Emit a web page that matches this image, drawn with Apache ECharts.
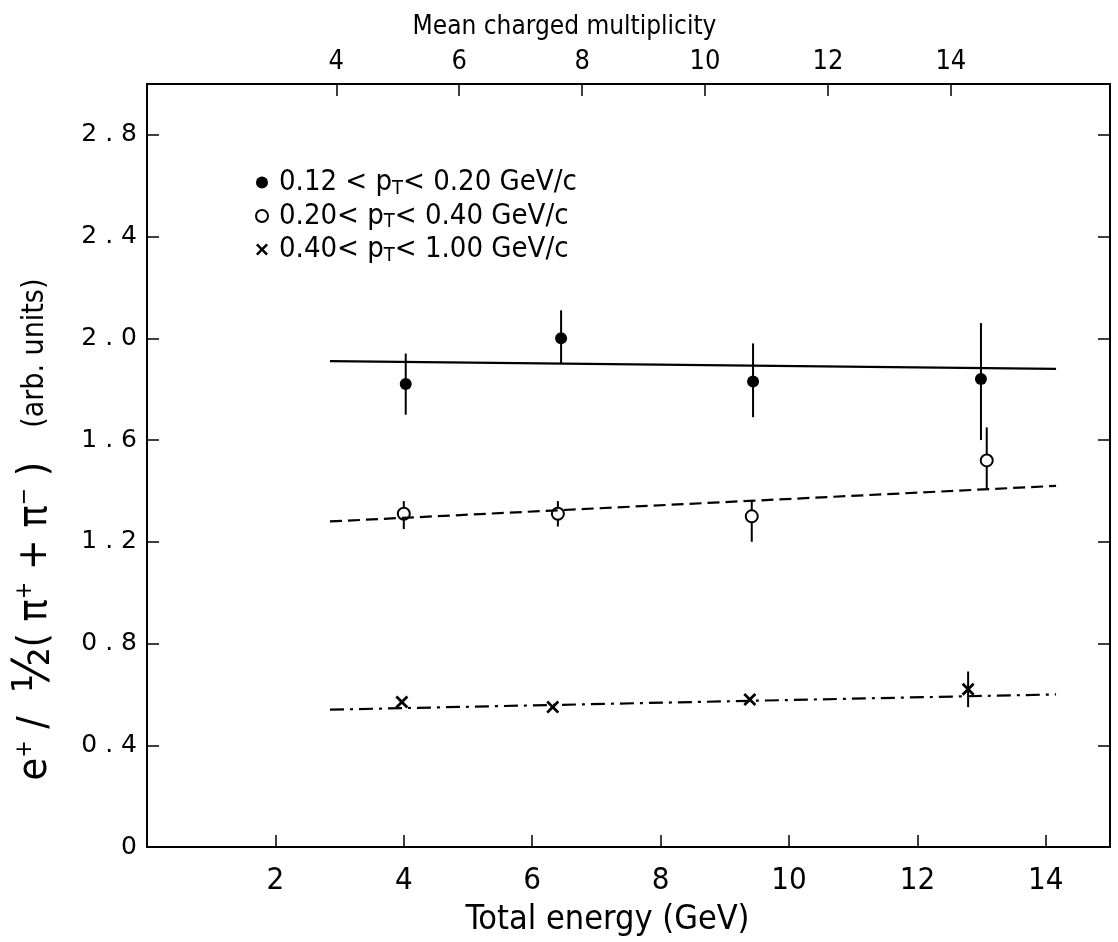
<!DOCTYPE html>
<html>
<head>
<meta charset="utf-8">
<script src="https://cdn.jsdelivr.net/npm/echarts@6/dist/echarts.min.js"></script>
<style>
  html, body { margin: 0; padding: 0; background: #fff; }
  #chart { width: 1118px; height: 942px; }
</style>
</head>
<body>
<div id="chart"></div>
<script>
// energies (GeV) and ratios
var lowEnergy = [4.03, 6.45, 9.44, 12.99]
var lowRatio = [1.82, 2.00, 1.83, 1.84]
var lowErrLo = [1.70, 1.90, 1.69, 1.60]
var lowErrHi = [1.94, 2.11, 1.98, 2.06]

var midEnergy = [4.00, 6.40, 9.42, 13.08]
var midRatio = [1.31, 1.31, 1.30, 1.52]
var midErrLo = [1.25, 1.26, 1.20, 1.41]
var midErrHi = [1.36, 1.36, 1.36, 1.65]

var highEnergy = [3.97, 6.32, 9.39, 12.79]
var highRatio = [0.57, 0.55, 0.58, 0.62]
var highErrLo = [0.57, 0.55, 0.58, 0.55]
var highErrHi = [0.57, 0.55, 0.58, 0.69]

// straight-line fits, end points
var fitEnergy = [2.85, 14.16]
var lowFit = [1.91, 1.88]
var midFit = [1.28, 1.42]
var highFit = [0.54, 0.60]

var energyTicks = [2, 4, 6, 8, 10, 12, 14]
var multTicks = [4, 6, 8, 10, 12, 14]
var ratioTicks = [0, 0.4, 0.8, 1.2, 1.6, 2.0, 2.4, 2.8]

var legendNames = ['0.12 < pT< 0.20 GeV/c', '0.20< pT< 0.40 GeV/c', '0.40< pT< 1.00 GeV/c']

var font = "'DejaVu Sans Condensed', 'Liberation Sans Narrow', 'DejaVu Sans', sans-serif"
var crossPath = 'path://M0,1.5 L1.5,0 L5,3.5 L8.5,0 L10,1.5 L6.5,5 L10,8.5 L8.5,10 L5,6.5 L1.5,10 L0,8.5 L3.5,5 Z'

function pairs (xs, ys) {
  return xs.map(function (x, i) { return [x, ys[i]] })
}
function bars (xs, lo, hi) {
  return xs.map(function (x, i) { return [x, lo[i], hi[i]] })
}

function errorBar (params, api) {
  var p1 = api.coord([api.value(0), api.value(1)])
  var p2 = api.coord([api.value(0), api.value(2)])
  return {
    type: 'line',
    shape: { x1: p1[0], y1: p1[1], x2: p2[0], y2: p2[1] },
    style: { stroke: '#000', lineWidth: 2 }
  }
}

function legendText (name) {
  var parts = name.split('pT')
  return '{a|' + parts[0] + 'p}{s|T}{a|' + parts[1] + '}'
}

var myChart = echarts.init(document.getElementById('chart'))
myChart.setOption({
  backgroundColor: '#fff',
  animation: false,
  grid: {
    left: 147,
    right: 8,
    top: 84,
    bottom: 90
  },
  legend: {
    orient: 'vertical',
    left: 250,
    top: 163,
    itemGap: 3,
    itemWidth: 24,
    itemHeight: 12,
    data: legendNames,
    formatter: legendText,
    textStyle: {
      color: '#000',
      rich: {
        a: { fontFamily: font, fontSize: 29, color: '#000' },
        s: { fontFamily: font, fontSize: 20, color: '#000', padding: [12, 0, 0, 0] }
      }
    }
  },
  xAxis: [
    {
      type: 'value',
      position: 'bottom',
      min: 0,
      max: 15,
      name: 'Total energy (GeV)',
      nameLocation: 'middle',
      nameGap: 56,
      nameTextStyle: { fontFamily: font, fontSize: 34, color: '#000', padding: [0, 42, 0, 0] },
      axisLine: { onZero: false, lineStyle: { color: '#000', width: 2 } },
      axisTick: { inside: true, length: 12, lineStyle: { color: '#000', width: 1.5 }, customValues: energyTicks },
      axisLabel: { fontFamily: font, fontSize: 31, color: '#000', margin: 18, customValues: energyTicks },
      splitLine: { show: false }
    },
    {
      // mean charged multiplicity scale along the top
      type: 'value',
      position: 'top',
      min: 0.92,
      max: 16.59,
      name: 'Mean charged multiplicity',
      nameLocation: 'middle',
      nameGap: 44,
      nameTextStyle: { fontFamily: font, fontSize: 26, color: '#000', padding: [0, 128, 0, 0] },
      axisLine: { onZero: false, lineStyle: { color: '#000', width: 2 } },
      axisTick: { inside: true, length: 12, lineStyle: { color: '#000', width: 1.5 }, customValues: multTicks },
      axisLabel: { fontFamily: font, fontSize: 27, color: '#000', margin: 9, customValues: multTicks },
      splitLine: { show: false }
    }
  ],
  yAxis: [
    {
      type: 'value',
      position: 'left',
      min: 0,
      max: 3.0,
      name: '{b|e}{p|+}{b| /  }{f|½}{b|( π}{p|+}{b| + π}{p|−}{b| )}{g| }{a|(arb. units)}',
      nameLocation: 'middle',
      nameRotate: 90,
      nameGap: 86,
      nameTextStyle: {
        color: '#000',
        padding: [0, 128, 0, 0],
        rich: {
          a: { fontFamily: font, fontSize: 30, color: '#000' },
          b: { fontFamily: font, fontSize: 41, color: '#000' },
          f: { fontFamily: font, fontSize: 52, color: '#000' },
          g: { fontFamily: font, fontSize: 28, color: '#000', width: 34 },
          p: { fontFamily: font, fontSize: 23, color: '#000', padding: [0, 0, 19, 0] }
        }
      },
      axisLine: { onZero: false, lineStyle: { color: '#000', width: 2 } },
      axisTick: { inside: true, length: 12, lineStyle: { color: '#000', width: 1.5 }, customValues: ratioTicks.slice(1) },
      axisLabel: {
        fontFamily: "'DejaVu Sans', sans-serif",
        fontSize: 25,
        color: '#000',
        margin: 10,
        customValues: ratioTicks,
        formatter: function (v) {
          return v === 0 ? '0' : v.toFixed(1).replace('.', ' . ')
        }
      },
      splitLine: { show: false }
    },
    {
      type: 'value',
      position: 'right',
      min: 0,
      max: 3.0,
      axisLine: { onZero: false, lineStyle: { color: '#000', width: 2 } },
      axisTick: { inside: true, length: 12, lineStyle: { color: '#000', width: 1.5 }, customValues: ratioTicks.slice(1) },
      axisLabel: { show: false },
      splitLine: { show: false }
    }
  ],
  series: [
    {
      type: 'line',
      data: pairs(fitEnergy, lowFit),
      symbol: 'none',
      lineStyle: { color: '#000', width: 2.2, type: 'solid' }
    },
    {
      type: 'line',
      data: pairs(fitEnergy, midFit),
      symbol: 'none',
      lineStyle: { color: '#000', width: 2.2, type: [12, 6] }
    },
    {
      type: 'line',
      data: pairs(fitEnergy, highFit),
      symbol: 'none',
      lineStyle: { color: '#000', width: 2.2, type: [14, 6, 3, 6] }
    },
    { type: 'custom', renderItem: errorBar, data: bars(lowEnergy, lowErrLo, lowErrHi), encode: { x: 0, y: [1, 2] } },
    { type: 'custom', renderItem: errorBar, data: bars(midEnergy, midErrLo, midErrHi), encode: { x: 0, y: [1, 2] } },
    { type: 'custom', renderItem: errorBar, data: bars(highEnergy, highErrLo, highErrHi), encode: { x: 0, y: [1, 2] } },
    {
      name: legendNames[0],
      type: 'scatter',
      data: pairs(lowEnergy, lowRatio),
      symbol: 'circle',
      symbolSize: 12,
      itemStyle: { color: '#000', opacity: 1 }
    },
    {
      name: legendNames[1],
      type: 'scatter',
      data: pairs(midEnergy, midRatio),
      symbol: 'emptyCircle',
      symbolSize: 12,
      itemStyle: { color: '#000', borderColor: '#000', borderWidth: 1.8, opacity: 1 }
    },
    {
      name: legendNames[2],
      type: 'scatter',
      data: pairs(highEnergy, highRatio),
      symbol: crossPath,
      symbolSize: 13,
      itemStyle: { color: '#000', opacity: 1 }
    }
  ]
})
</script>
</body>
</html>
